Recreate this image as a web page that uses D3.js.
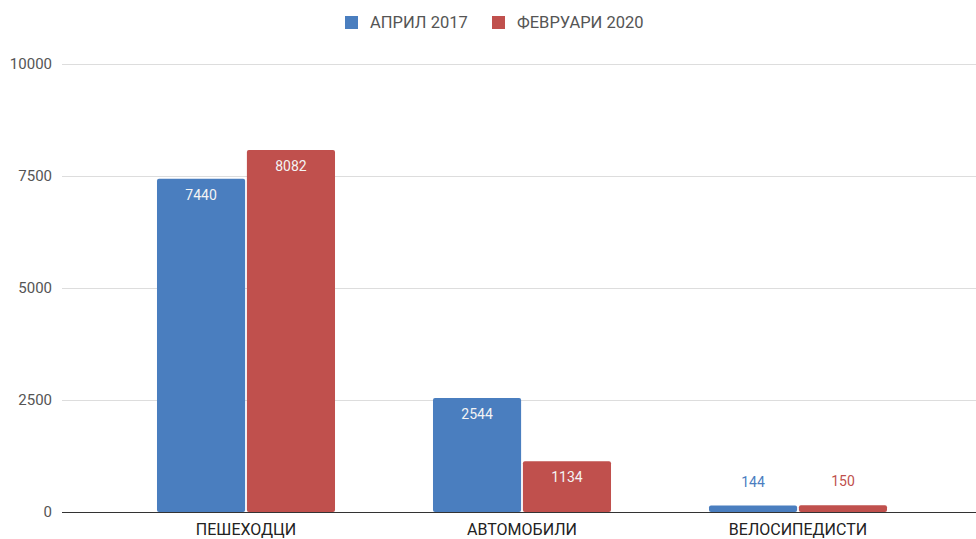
<!DOCTYPE html>
<html>
<head>
<meta charset="utf-8">
<script src="https://cdn.jsdelivr.net/npm/d3@7"></script>
<style>
  body { margin: 0; background: #fff; }
</style>
</head>
<body>
<div id="chart"></div>
<script>
// values
var categories = ["ПЕШЕХОДЦИ", "АВТОМОБИЛИ", "ВЕЛОСИПЕДИСТИ"];
var seriesNames = ["АПРИЛ 2017", "ФЕВРУАРИ 2020"];
var april2017 = [7440, 2544, 144];
var february2020 = [8082, 1134, 150];
var yTicks = [0, 2500, 5000, 7500, 10000];
var colors = ["#4a7ebf", "#c0504d"];

function barchart() {
    var width = 976, height = 539;
    var margin = { top: 64, right: 40, bottom: 27, left: 108 };

    var svg = d3.select("#chart").append("svg")
        .attr("width", width)
        .attr("height", height)
        .style("font-family", "Roboto, sans-serif");

    var series = [april2017, february2020];
    var dataset = [];
    categories.forEach(function(c, i) {
        series.forEach(function(s, j) {
            dataset.push({ cat: c, name: seriesNames[j], value: s[i], idx: j });
        });
    });

    var x = d3.scaleBand()
        .domain(categories)
        .range([margin.left, width - margin.right])
        .paddingInner(0.355)
        .paddingOuter(0.1775);

    var xInner = d3.scaleBand()
        .domain(seriesNames)
        .range([0, x.bandwidth()])
        .paddingInner(0.02);

    var y = d3.scaleLinear()
        .domain([0, 10000])
        .range([height - margin.bottom, margin.top]);

    // gridlines
    var yAxis = d3.axisLeft(y)
        .tickValues(yTicks)
        .tickFormat(d3.format("d"))
        .tickSize(-(width - 62))
        .tickPadding(10);

    var gy = svg.append("g")
        .attr("transform", "translate(62,0)")
        .call(yAxis);
    gy.select(".domain").remove();
    gy.selectAll(".tick line")
        .attr("stroke", function(d) { return d === 0 ? "#333" : "#dddddd"; })
        .attr("stroke-width", 1);
    gy.selectAll(".tick text")
        .attr("fill", "#555")
        .style("font-size", "15px")
        .style("font-family", "Roboto, sans-serif");

    // bars
    svg.selectAll("rect.bar")
        .data(dataset)
        .enter().append("rect")
        .attr("class", "bar")
        .attr("x", function(d) { return x(d.cat) + xInner(d.name); })
        .attr("y", function(d) { return y(d.value); })
        .attr("width", xInner.bandwidth())
        .attr("height", function(d) { return y(0) - y(d.value); })
        .attr("rx", 2)
        .style("fill", function(d) { return colors[d.idx]; });

    // redraw baseline on top of bars
    svg.append("line")
        .attr("x1", 62).attr("x2", width)
        .attr("y1", y(0) + 0.5).attr("y2", y(0) + 0.5)
        .attr("stroke", "#333");

    // value labels
    svg.selectAll("text.val")
        .data(dataset)
        .enter().append("text")
        .attr("class", "val")
        .attr("text-anchor", "middle")
        .attr("x", function(d) { return x(d.cat) + xInner(d.name) + xInner.bandwidth() / 2; })
        .attr("y", function(d) {
            var h = y(0) - y(d.value);
            return h > 30 ? y(d.value) + 21 : y(d.value) - 19;
        })
        .style("font-size", "14px")
        .style("fill", function(d) {
            var h = y(0) - y(d.value);
            return h > 30 ? "#f4f4f4" : colors[d.idx];
        })
        .text(function(d) { return d.value; });

    // category labels
    var xAxis = d3.axisBottom(x).tickSize(0).tickPadding(12);
    var gx = svg.append("g")
        .attr("transform", "translate(0," + y(0) + ")")
        .call(xAxis);
    gx.select(".domain").remove();
    gx.selectAll(".tick text")
        .attr("fill", "#222")
        .style("font-size", "16px")
        .style("font-family", "Roboto, sans-serif");

    // legend
    var legendX = [345, 492];
    var legend = svg.selectAll("g.legend")
        .data(seriesNames)
        .enter().append("g")
        .attr("class", "legend")
        .attr("transform", function(d, i) { return "translate(" + legendX[i] + ",16)"; });
    legend.append("rect")
        .attr("width", 13).attr("height", 13)
        .style("fill", function(d, i) { return colors[i]; });
    legend.append("text")
        .attr("x", 25).attr("y", 12)
        .style("font-size", "16.5px")
        .style("fill", "#555")
        .text(function(d) { return d; });
}
barchart();
</script>
</body>
</html>
